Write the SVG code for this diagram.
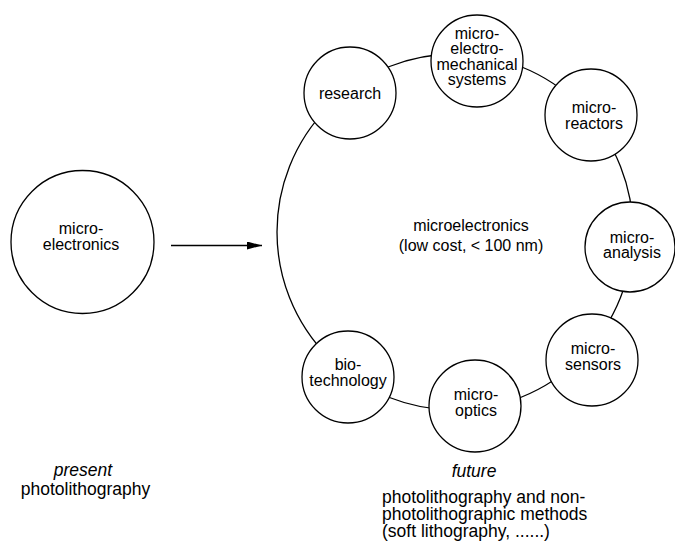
<svg xmlns="http://www.w3.org/2000/svg" width="675" height="541" viewBox="0 0 675 541">
  <style>
    .c { fill: #fff; stroke: #000; stroke-width: 1.3; }
    .ring { fill: none; stroke: #000; stroke-width: 1.3; }
    .t { font-family: "Liberation Sans", Arial, Helvetica, sans-serif; font-size: 16px; fill: #000; text-anchor: middle; }
    .b { font-family: "Liberation Sans", Arial, Helvetica, sans-serif; font-size: 17.5px; fill: #000; }
    .i { font-style: italic; text-anchor: middle; }
    .line { stroke: #000; stroke-width: 1.3; fill: none; }
  </style>
  <defs>
    <marker id="arrow" markerUnits="userSpaceOnUse" markerWidth="16" markerHeight="8" refX="15" refY="4" orient="auto">
      <path d="M0,0 L15,4 L0,8 z" fill="#000"/>
    </marker>
  </defs>
  <rect width="675" height="541" fill="#fff"/>

  <g id="connectors">
    <line class="line" x1="171" y1="245.5" x2="262" y2="245.5" marker-end="url(#arrow)"/>
  </g>

  <g id="future-microelectronics">
    <circle class="ring" cx="455" cy="232" r="178"/>
    <text class="t" x="471" y="231">microelectronics</text>
    <text class="t" x="471" y="251">(low cost, &lt; 100 nm)</text>
  </g>

  <g id="present-microelectronics">
    <circle class="c" cx="82.5" cy="242" r="71.5"/>
    <text class="t" x="81" y="233.5">micro-</text>
    <text class="t" x="81" y="249.5">electronics</text>
  </g>

  <g id="research">
    <circle class="c" cx="350" cy="93" r="46"/>
    <text class="t" x="350" y="98.5">research</text>
  </g>

  <g id="mems">
    <circle class="c" cx="477" cy="61" r="46"/>
    <text class="t" x="477" y="38.5">micro-</text>
    <text class="t" x="477" y="54">electro-</text>
    <text class="t" x="477" y="69.5">mechanical</text>
    <text class="t" x="477" y="85">systems</text>
  </g>

  <g id="microreactors">
    <circle class="c" cx="591" cy="115" r="46"/>
    <text class="t" x="594" y="113">micro-</text>
    <text class="t" x="594" y="128.5">reactors</text>
  </g>

  <g id="microanalysis">
    <circle class="c" cx="630" cy="247" r="45"/>
    <text class="t" x="632" y="242.5">micro-</text>
    <text class="t" x="632" y="258">analysis</text>
  </g>

  <g id="microsensors">
    <circle class="c" cx="592" cy="360" r="46"/>
    <text class="t" x="593" y="354">micro-</text>
    <text class="t" x="593" y="369.5">sensors</text>
  </g>

  <g id="microoptics">
    <circle class="c" cx="475" cy="406" r="46"/>
    <text class="t" x="476" y="400">micro-</text>
    <text class="t" x="476" y="415.5">optics</text>
  </g>

  <g id="biotechnology">
    <circle class="c" cx="348" cy="377" r="46"/>
    <text class="t" x="348" y="370">bio-</text>
    <text class="t" x="348" y="385.5">technology</text>
  </g>

  <g id="present-label">
    <text class="b i" x="83" y="476">present</text>
    <text class="b" x="85.5" y="495" text-anchor="middle">photolithography</text>
  </g>

  <g id="future-label">
    <text class="b i" x="474" y="477">future</text>
    <text class="b" x="382" y="503">photolithography and non-</text>
    <text class="b" x="382" y="520">photolithographic methods</text>
    <text class="b" x="382" y="537">(soft lithography, ......)</text>
  </g>
</svg>
